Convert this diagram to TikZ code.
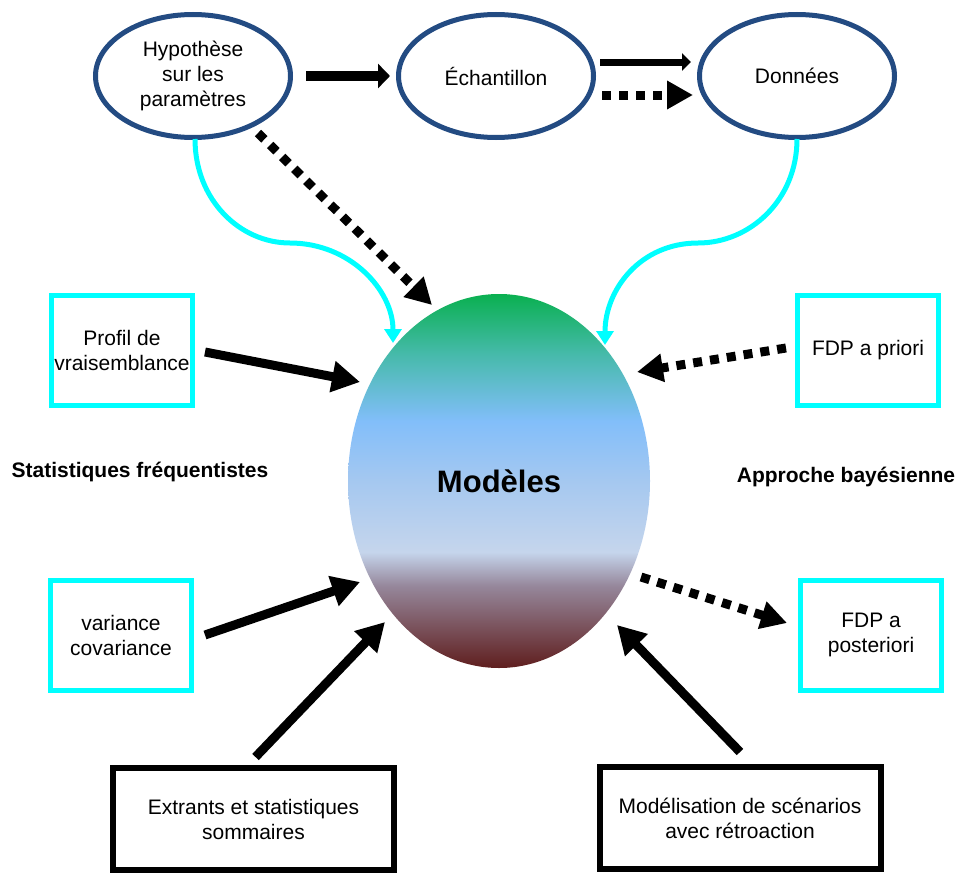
\documentclass[tikz,border=0pt]{standalone}
\usepackage{fontspec}
\setmainfont{Liberation Sans}
\usetikzlibrary{arrows.meta,calc,shapes.geometric}
\definecolor{ellblue}{RGB}{35,75,130}
\definecolor{cyanc}{RGB}{0,255,255}
\definecolor{gtop}{RGB}{10,176,80}
\definecolor{gteal}{RGB}{70,186,170}
\definecolor{glblue}{RGB}{130,190,250}
\definecolor{gmid}{RGB}{165,200,240}
\definecolor{glav}{RGB}{197,213,236}
\definecolor{gmauve}{RGB}{150,135,155}
\definecolor{gbot}{RGB}{95,30,30}
\pgfdeclareverticalshading{modshade}{100bp}{color(0bp)=(gbot); color(25bp)=(gbot); color(36bp)=(gmauve); color(40.5bp)=(glav); color(50bp)=(gmid); color(58bp)=(glblue); color(67bp)=(gteal); color(75bp)=(gtop); color(100bp)=(gtop)}
\newcommand\boxfont{\fontsize{21pt}{25pt}\selectfont}
\newcommand\lblfont{\fontsize{21pt}{25pt}\selectfont\bfseries}
\tikzset{
  topell/.style={ellipse, draw=ellblue, line width=5pt, minimum width=195pt, minimum height=123pt, inner sep=0pt, align=center, font=\boxfont},
  cbox/.style={rectangle, draw=cyanc, line width=5pt, minimum width=141pt, minimum height=110pt, inner sep=0pt, align=center, font=\boxfont},
  bbox/.style={rectangle, draw=black, line width=6pt, minimum width=281pt, minimum height=102pt, inner sep=0pt, align=center, font=\boxfont},
  lbl/.style={inner sep=0pt, font=\lblfont},
  solidarr/.style={line width=9pt, -{Triangle[length=28pt,width=30pt]}},
  toparr/.style={line width=10pt, -{Triangle[length=12pt,width=24pt]}},
  thinarr/.style={line width=7pt, -{Triangle[length=9pt,width=17pt]}},
  dotarr/.style={line width=9pt, dash pattern=on 9pt off 8pt, -{Triangle[length=26pt,width=27pt]}},
  cyanarr/.style={draw=cyanc, line width=5pt, -{Triangle[length=14pt,width=17pt]}}
}
\begin{document}
\begin{tikzpicture}[x=1pt,y=-1pt]
\useasboundingbox (0,0) rectangle (957,875);
% top ellipses
\node[topell] (hyp) at (193,76) {Hypothèse\\sur les\\paramètres};
\node[topell] (ech) at (496,76) {Échantillon};
\node[topell] (don) at (797,76) {Données};
% central ellipse
\node[ellipse, minimum width=302pt, minimum height=374pt, inner sep=0pt, shading=modshade, font=\fontsize{31pt}{36pt}\selectfont\bfseries] (mod) at (499,481) {Modèles};
% boxes
\node[cbox] (prof) at (122,350) {Profil de\\vraisemblance};
\node[cbox] (var) at (121,635) {variance\\covariance};
\node[cbox] (prior) at (868,350) {FDP a priori};
\node[cbox] (post) at (871,635) {FDP a\\posteriori};
\node[bbox] (ext) at (253.5,819) {Extrants et statistiques\\sommaires};
\node[bbox] (model) at (740,818) {Modélisation de scénarios\\avec rétroaction};
% labels
\node[lbl] (freq) at (140,472) {Statistiques fréquentistes};
\node[lbl] (bay) at (846,477) {Approche bayésienne};
% top arrows
\draw[toparr] ($(hyp.center)+(113,0)$) -- ($(ech.center)+(-106,0)$);
\draw[thinarr] ($(ech.center)+(104,-14)$) -- ($(don.center)+(-106,-14)$);
\draw[dotarr] ($(ech.center)+(106,19)$) -- ($(don.center)+(-104,19)$);
% hypothesis to models
\draw[dotarr] ($(hyp.center)+(65,57)$) -- ($(mod.center)+(-67,-176)$);
% cyan curves
\draw[cyanarr] ($(hyp.center)+(2,63)$) .. controls (195,200) and (240,243) .. (290,243) .. controls (350,243) and (393,290) .. ($(mod.center)+(-106,-138)$);
\draw[cyanarr] ($(don.center)+(0,63)$) .. controls (797,200) and (750,243) .. (698,243) .. controls (640,243) and (605,290) .. ($(mod.center)+(106,-136)$);
% side arrows
\draw[solidarr] ($(prof.center)+(83,2)$) -- ($(mod.center)+(-139,-99)$);
\draw[solidarr] ($(var.center)+(84,0)$) -- ($(mod.center)+(-139,101)$);
\draw[solidarr] ($(ext.center)+(2,-62)$) -- ($(mod.center)+(-114,141)$);
\draw[solidarr] ($(model.center)+(0,-66)$) -- ($(mod.center)+(118,144)$);
\draw[dotarr] ($(prior.center)+(-82,-2)$) -- ($(mod.center)+(138,-109)$);
\draw[dotarr] ($(mod.center)+(142,96)$) -- ($(post.center)+(-84,-12)$);
\end{tikzpicture}
\end{document}
